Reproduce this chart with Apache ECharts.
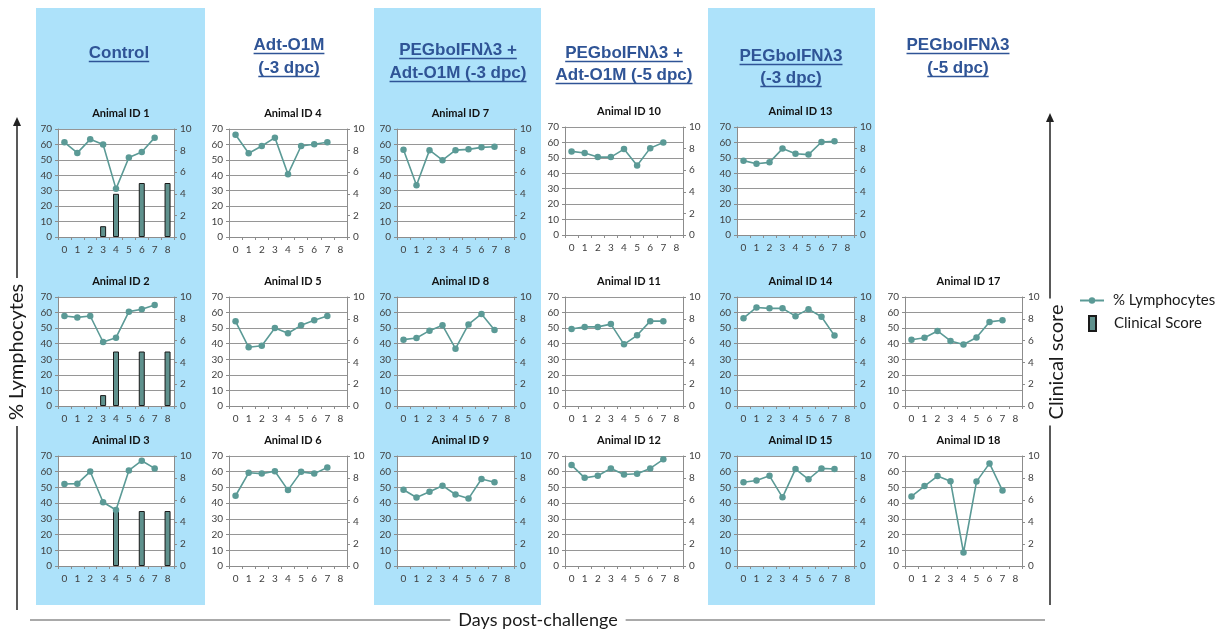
<!DOCTYPE html>
<html>
<head>
<meta charset="utf-8">
<title>% Lymphocytes and clinical score by animal</title>
<script src="https://cdn.jsdelivr.net/npm/echarts@6/dist/echarts.min.js"></script>
<style>
  html, body { margin: 0; padding: 0; background: #fff; }
  #chart { width: 1228px; height: 631px; }
</style>
</head>
<body>
<div id="chart"></div>
<script>
// Days post-challenge (category axis of every panel)
const days = ['0', '1', '2', '3', '4', '5', '6', '7', '8'];

// Treatment groups (one column each)
const groupTitles = [
  ['Control'],
  ['Adt-O1M', '(-3 dpc)'],
  ['PEGboIFNλ3 +', 'Adt-O1M (-3 dpc)'],
  ['PEGboIFNλ3 +', 'Adt-O1M (-5 dpc)'],
  ['PEGboIFNλ3', '(-3 dpc)'],
  ['PEGboIFNλ3', '(-5 dpc)']
];

// % Lymphocytes, days 0-7
const lymph1  = [61.4, 54.5, 63.3, 59.9, 31.2, 51.5, 55.1, 64.4];
const lymph2  = [57.8, 56.9, 57.8, 41.1, 43.9, 60.6, 62.1, 64.9];
const lymph3  = [52.2, 52.4, 60.1, 40.6, 35.6, 60.8, 67.0, 62.1];
const lymph4  = [66.3, 54.3, 59.0, 64.4, 40.7, 59.0, 60.1, 61.4];
const lymph5  = [54.4, 37.7, 38.7, 50.1, 46.7, 51.8, 55.0, 57.8];
const lymph6  = [44.7, 59.3, 58.8, 60.3, 48.3, 59.9, 58.8, 62.7];
const lymph7  = [56.6, 33.6, 56.3, 49.8, 56.3, 56.8, 58.1, 58.5];
const lymph8  = [42.6, 43.7, 48.4, 51.8, 36.8, 52.4, 59.1, 48.8];
const lymph9  = [48.5, 43.6, 47.2, 51.1, 45.5, 42.9, 55.4, 53.3];
const lymph10 = [54.2, 53.1, 50.5, 50.5, 55.7, 45.1, 56.3, 60.0];
const lymph11 = [49.5, 50.8, 50.8, 52.6, 39.6, 45.4, 54.5, 54.5];
const lymph12 = [64.2, 56.1, 57.4, 62.1, 58.2, 58.7, 62.1, 67.9];
const lymph13 = [48.2, 46.2, 47.1, 56.0, 52.7, 52.1, 60.3, 60.7];
const lymph14 = [56.4, 63.3, 62.7, 62.7, 57.7, 62.2, 57.3, 45.2];
const lymph15 = [53.3, 54.4, 57.4, 43.7, 61.7, 55.2, 62.1, 61.7];
const lymph17 = [42.5, 43.8, 48.2, 41.8, 39.5, 44.0, 54.0, 55.1];
const lymph18 = [44.3, 50.9, 57.2, 53.9, 8.6, 53.7, 65.3, 48.0];

// Clinical score, days 0-8 (control animals only)
const score1 = [null, null, null, 1, 4, null, 5, null, 5];
const score2 = [null, null, null, 1, 5, null, 5, null, 5];
const score3 = [null, null, null, null, 5, null, 5, null, 5];

// Axis ticks
const lymphAxis = { min: 0, max: 70, interval: 10 };
const scoreAxis = { min: 0, max: 10, interval: 2 };

// Panels: column, row, animal id, series
const panels = [
  { col: 0, row: 0, id: 1, lymph: lymph1, score: score1 },
  { col: 0, row: 1, id: 2, lymph: lymph2, score: score2 },
  { col: 0, row: 2, id: 3, lymph: lymph3, score: score3 },
  { col: 1, row: 0, id: 4, lymph: lymph4 },
  { col: 1, row: 1, id: 5, lymph: lymph5 },
  { col: 1, row: 2, id: 6, lymph: lymph6 },
  { col: 2, row: 0, id: 7, lymph: lymph7 },
  { col: 2, row: 1, id: 8, lymph: lymph8 },
  { col: 2, row: 2, id: 9, lymph: lymph9 },
  { col: 3, row: 0, id: 10, lymph: lymph10 },
  { col: 3, row: 1, id: 11, lymph: lymph11 },
  { col: 3, row: 2, id: 12, lymph: lymph12 },
  { col: 4, row: 0, id: 13, lymph: lymph13 },
  { col: 4, row: 1, id: 14, lymph: lymph14 },
  { col: 4, row: 2, id: 15, lymph: lymph15 },
  { col: 5, row: 1, id: 17, lymph: lymph17 },
  { col: 5, row: 2, id: 18, lymph: lymph18 }
];

// ---- layout (pixels) ----
const colLeft  = [58, 229, 397, 565, 737, 905];
const colRight = [174, 347, 514, 683, 854, 1022];
const rowTop   = [129, 297, 456];
const rowBot   = [237, 406, 566];
const colTopShift = [0, 0, 0, -2, -2, 0];
const groupCenter = [119, 289, 458, 624, 791, 958];
const groupLineY = [[53], [45, 68], [50, 73], [53, 75], [56, 78], [45, 68]];
const shadedCols = [[36, 205], [374, 541], [708, 875]];

const LINE_COLOR = '#5B9A96';
const BAR_COLOR = '#5F918D';
const GRID_COLOR = '#969696';
const AXIS_COLOR = '#8c8c8c';
const LABEL_COLOR = '#404040';
const TITLE_BLUE = '#2F5496';
const FONT = 'Lato';

const measureCtx = document.createElement('canvas').getContext('2d');
function textWidth(str, font) {
  measureCtx.font = font;
  return measureCtx.measureText(str).width;
}

const grids = [], xAxes = [], yAxes = [], series = [], titles = [];

panels.forEach((p, i) => {
  const L = colLeft[p.col], R = colRight[p.col];
  const T = rowTop[p.row] + (p.row === 0 ? colTopShift[p.col] : 0);
  const B = rowBot[p.row] + (p.row === 0 ? colTopShift[p.col] : 0);
  grids.push({
    left: L, top: T, width: R - L, height: B - T,
    show: true, backgroundColor: '#ffffff', borderWidth: 0
  });
  titles.push({
    text: 'Animal ID ' + p.id,
    left: (L + R) / 2, top: T - 26, textAlign: 'center',
    textStyle: { fontFamily: FONT, fontSize: 11, fontWeight: 'bold', color: '#111' }
  });
  xAxes.push({
    type: 'category', gridIndex: i, data: days, boundaryGap: true,
    axisLine: { show: true, lineStyle: { color: AXIS_COLOR, width: 1 } },
    axisTick: { show: true, length: 3, lineStyle: { color: AXIS_COLOR } },
    axisLabel: { interval: 0, fontFamily: FONT, fontSize: 10, color: LABEL_COLOR, margin: 8 },
    splitLine: { show: false }
  });
  yAxes.push({
    type: 'value', gridIndex: i, position: 'left',
    min: lymphAxis.min, max: lymphAxis.max, interval: lymphAxis.interval,
    axisLine: { show: true, lineStyle: { color: AXIS_COLOR, width: 1 } },
    axisTick: { show: true, length: 3, lineStyle: { color: AXIS_COLOR } },
    axisLabel: { fontFamily: FONT, fontSize: 10, color: LABEL_COLOR, margin: 6 },
    splitLine: { show: true, lineStyle: { color: GRID_COLOR, width: 1 } }
  });
  yAxes.push({
    type: 'value', gridIndex: i, position: 'right',
    min: scoreAxis.min, max: scoreAxis.max, interval: scoreAxis.interval,
    axisLine: { show: true, lineStyle: { color: AXIS_COLOR, width: 1 } },
    axisTick: { show: true, length: 3, lineStyle: { color: AXIS_COLOR } },
    axisLabel: { fontFamily: FONT, fontSize: 10, color: LABEL_COLOR, margin: 6 },
    splitLine: { show: false }
  });
  if (p.score) {
    series.push({
      name: 'Clinical Score', type: 'bar',
      xAxisIndex: i, yAxisIndex: 2 * i + 1,
      data: p.score, barWidth: 6,
      itemStyle: { color: BAR_COLOR, borderColor: '#1a1a1a', borderWidth: 1 },
      z: 2
    });
  }
  series.push({
    name: '% Lymphocytes', type: 'line',
    xAxisIndex: i, yAxisIndex: 2 * i,
    data: p.lymph,
    symbol: 'circle', symbolSize: 6.5,
    lineStyle: { color: LINE_COLOR, width: 1.6 },
    itemStyle: { color: LINE_COLOR },
    z: 3
  });
});

// ---- decorations: shaded columns, group headings, axis captions ----
const graphics = [];
shadedCols.forEach(([x0, x1]) => {
  graphics.push({
    type: 'rect', z: -10, silent: true,
    shape: { x: x0, y: 8, width: x1 - x0, height: 597 },
    style: { fill: '#ADE2FA' }
  });
});

const headFont = 'bold 17px "Liberation Sans"';
groupTitles.forEach((lines, c) => {
  lines.forEach((txt, k) => {
    const y = groupLineY[c][k];
    const w = textWidth(txt, headFont);
    graphics.push({
      type: 'text', z: 5,
      style: {
        text: txt, x: groupCenter[c], y: y,
        align: 'center', verticalAlign: 'middle',
        font: headFont, fill: TITLE_BLUE
      }
    });
    graphics.push({
      type: 'line', z: 5,
      shape: { x1: groupCenter[c] - w / 2, y1: y + 8.5, x2: groupCenter[c] + w / 2, y2: y + 8.5 },
      style: { stroke: TITLE_BLUE, lineWidth: 1.5 }
    });
  });
});

const capFont = '20px Lato';
const arrowColor = '#222';
function verticalCaption(txt, x, tipY, endY, textX, textY) {
  const w = textWidth(txt, capFont);
  const gap = 6;
  graphics.push({
    type: 'text', z: 5, rotation: Math.PI / 2, x: textX, y: textY,
    style: { text: txt, x: 0, y: 0, align: 'center', verticalAlign: 'middle', font: capFont, fill: '#1a1a1a' }
  });
  graphics.push({
    type: 'line', z: 5,
    shape: { x1: x, y1: tipY + 6, x2: x, y2: textY - w / 2 - gap },
    style: { stroke: arrowColor, lineWidth: 1.5 }
  });
  graphics.push({
    type: 'line', z: 5,
    shape: { x1: x, y1: textY + w / 2 + gap, x2: x, y2: endY },
    style: { stroke: arrowColor, lineWidth: 1.5 }
  });
  graphics.push({
    type: 'polygon', z: 5,
    shape: { points: [[x, tipY], [x - 4, tipY + 9], [x + 4, tipY + 9]] },
    style: { fill: arrowColor }
  });
}
verticalCaption('% Lymphocytes', 17, 117, 610, 17, 352);
verticalCaption('Clinical score', 1050, 113, 605, 1057, 362);

const xCapFont = '18px Lato';
const xCap = 'Days post-challenge';
const xCapW = textWidth(xCap, xCapFont);
const xCapX = 538, xCapY = 620;
graphics.push({
  type: 'text', z: 5,
  style: { text: xCap, x: xCapX, y: xCapY, align: 'center', verticalAlign: 'middle', font: xCapFont, fill: '#1a1a1a' }
});
graphics.push({
  type: 'line', z: 5,
  shape: { x1: 30, y1: xCapY, x2: xCapX - xCapW / 2 - 8, y2: xCapY },
  style: { stroke: '#555', lineWidth: 1 }
});
graphics.push({
  type: 'line', z: 5,
  shape: { x1: xCapX + xCapW / 2 + 8, y1: xCapY, x2: 1045, y2: xCapY },
  style: { stroke: '#555', lineWidth: 1 }
});

const chart = echarts.init(document.getElementById('chart'), null, { renderer: 'canvas' });
chart.setOption({
  animation: false,
  backgroundColor: '#ffffff',
  textStyle: { fontFamily: FONT },
  title: titles,
  legend: [
    {
      data: ['% Lymphocytes'], left: 1074, top: 288, orient: 'vertical',
      itemWidth: 24, itemHeight: 8, selectedMode: false,
      textStyle: { fontFamily: FONT, fontSize: 15, color: '#1a1a1a', padding: [0, 0, 0, 4] }
    },
    {
      data: ['Clinical Score'], left: 1083, top: 310, orient: 'vertical',
      itemWidth: 7, itemHeight: 15, selectedMode: false, icon: 'rect',
      textStyle: { fontFamily: FONT, fontSize: 15, color: '#1a1a1a', padding: [0, 0, 0, 13] }
    }
  ],
  grid: grids,
  xAxis: xAxes,
  yAxis: yAxes,
  series: series,
  graphic: graphics
});
</script>
</body>
</html>
